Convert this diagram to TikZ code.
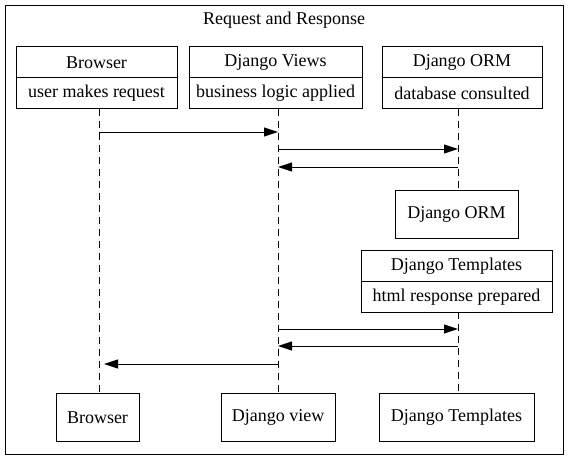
\documentclass[tikz,border=0pt]{standalone}
\usepackage{fontspec}
\setmainfont{Liberation Serif}
\usetikzlibrary{arrows.meta}
\begin{document}
\begin{tikzpicture}[x=1pt,y=-1pt,
  every node/.style={font=\fontsize{18}{20}\selectfont},
  box/.style={draw,line width=1pt,inner sep=0pt,minimum height=#1},
  box/.default=31,
  life/.style={line width=1pt,dash pattern=on 7pt off 5pt},
  msg/.style={line width=1pt,-{Triangle[length=14pt,width=9pt]}}]
\useasboundingbox (0,0) rectangle (568,459);
\draw[line width=1pt] (5,5) rectangle (563,454);
\node (title) at (284,20) {Request and Response};
% header boxes
\node[box, minimum width=161] (bT) at (96.5,62.25) {Browser};
\node[box, minimum width=161] (bB) at (96.5,93) {user makes request};
\node[box, minimum width=173] (vT) at (275.5,62.25) {Django Views};
\node[box, minimum width=173] (vB) at (275.5,93) {business logic applied};
\node[box, minimum width=160] (oT) at (462,62.25) {Django ORM};
\node[box, minimum width=160] (oB) at (462,93) {database consulted};
\node[box=48, minimum width=123] (orm) at (456.5,214) {Django ORM};
\node[box, minimum width=191] (tT) at (456.5,266.25) {Django Templates};
\node[box, minimum width=191] (tB) at (456.5,297) {html response prepared};
% bottom boxes
\node[box=48.5, minimum width=83] (bE) at (97.5,417.25) {Browser};
\node[box=48.5, minimum width=114] (vE) at (278,417.25) {Django view};
\node[box=48.5, minimum width=155] (tE) at (456.5,417.25) {Django Templates};
% lifeline points
\coordinate (b0) at (99,108.5);   \coordinate (b1) at (99,393);
\coordinate (v0) at (278,108.5);  \coordinate (v1) at (278,393);
\coordinate (o0) at (458,108.5);  \coordinate (o1) at (458,190);
\coordinate (t0) at (458,312);    \coordinate (t1) at (458,393);
\draw[life] (b0) -- (b1);
\draw[life] (v0) -- (v1);
\draw[life] (o0) -- (o1);
\draw[life] (t0) -- (t1);
% message points
\coordinate (m1a) at (99,132);  \coordinate (m1b) at (278,132);
\coordinate (m2a) at (278,149); \coordinate (m2b) at (458,149);
\coordinate (m3a) at (458,167); \coordinate (m3b) at (278,167);
\coordinate (m4a) at (278,329); \coordinate (m4b) at (458,329);
\coordinate (m5a) at (458,346); \coordinate (m5b) at (278,346);
\coordinate (m6a) at (278,364); \coordinate (m6b) at (104,364);
\draw[msg] (m1a) -- (m1b);
\draw[msg] (m2a) -- (m2b);
\draw[msg] (m3a) -- (m3b);
\draw[msg] (m4a) -- (m4b);
\draw[msg] (m5a) -- (m5b);
\draw[msg] (m6a) -- (m6b);
\end{tikzpicture}
\end{document}
